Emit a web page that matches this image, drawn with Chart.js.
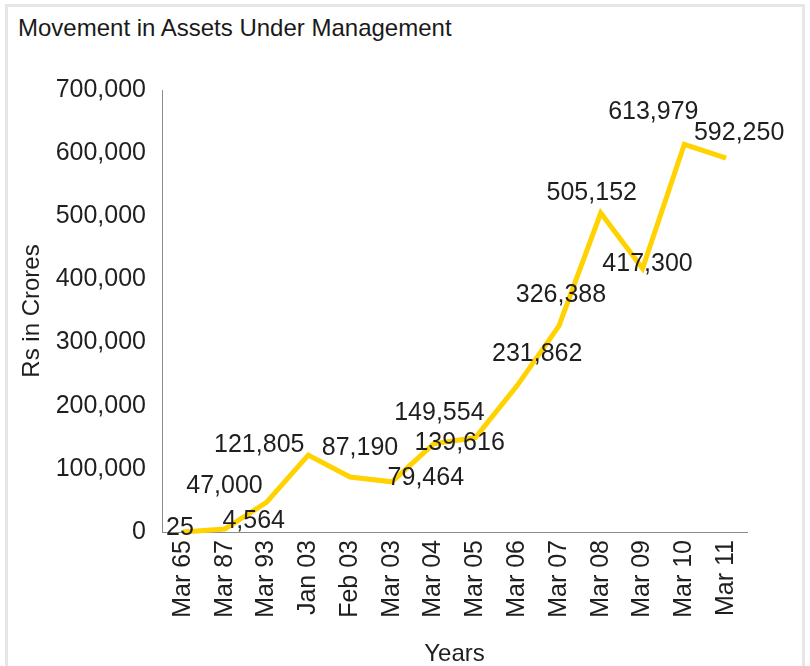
<!DOCTYPE html>
<html>
<head>
<meta charset="utf-8">
<script src="https://cdn.jsdelivr.net/npm/chart.js@4.4.1/dist/chart.umd.min.js"></script>
<style>
    html, body { margin: 0; padding: 0; background: #fff; }
    #frame {
        position: absolute; left: 5px; top: 4px; width: 800px; height: 700px;
        border: 3px solid #e6e6e6; box-sizing: border-box;
    }
    #title {
        position: absolute; left: 18px; top: 14px;
        font: 24px "Liberation Sans", Arial, sans-serif; color: #1a1a1a;
    }
    #wrap { position: absolute; left: 0; top: 0; width: 810px; height: 666px; }
</style>
</head>
<body>
<div id="frame"></div>
<div id="title">Movement in Assets Under Management</div>
<div id="wrap"><canvas id="chart" width="810" height="666"></canvas></div>
<script>
// --- data ---
const categories = ['Mar 65', 'Mar 87', 'Mar 93', 'Jan 03', 'Feb 03', 'Mar 03', 'Mar 04',
    'Mar 05', 'Mar 06', 'Mar 07', 'Mar 08', 'Mar 09', 'Mar 10', 'Mar 11'];
const aumValues = [25, 4564, 47000, 121805, 87190, 79464, 139616,
    149554, 231862, 326388, 505152, 417300, 613979, 592250];
const yTickValues = [0, 100000, 200000, 300000, 400000, 500000, 600000, 700000];

// where each value label sits, relative to its point (px)
const labelOffsets = [[-3, -4], [29, -8], [-42, -16], [-49, -10], [10, -29], [34, -4], [26, -1],
    [-36, -24], [20, -31], [2, -31], [-9, -20], [5, -4], [-31, -32], [13, -25]];

const FONT = '"Liberation Sans", Arial, sans-serif';
const TEXT = '#1f1f1f';

const fmt = v => Number(v).toLocaleString('en-US');

// draws the value next to each point
const valueLabels = {
    id: 'valueLabels',
    afterDatasetsDraw(chart) {
        const ctx = chart.ctx;
        const meta = chart.getDatasetMeta(0);
        ctx.save();
        ctx.font = '25px ' + FONT;
        ctx.fillStyle = TEXT;
        ctx.textAlign = 'center';
        ctx.textBaseline = 'middle';
        meta.data.forEach((pt, i) => {
            const off = labelOffsets[i];
            ctx.fillText(fmt(aumValues[i]), pt.x + off[0], pt.y + off[1]);
        });
        ctx.restore();
    }
};

new Chart(document.getElementById('chart'), {
    type: 'line',
    data: {
        labels: categories,
        datasets: [{
            data: aumValues,
            borderColor: '#FFD200',
            borderWidth: 5,
            pointRadius: 0,
            tension: 0,
            clip: false
        }]
    },
    options: {
        responsive: false,
        animation: false,
        layout: { padding: { left: 18, top: 90, right: 63, bottom: 0 } },
        plugins: {
            legend: { display: false },
            tooltip: { enabled: false }
        },
        scales: {
            x: {
                offset: true,
                grid: { display: false, drawTicks: false },
                border: { display: true, color: '#8c8c8c', width: 1 },
                ticks: {
                    autoSkip: false, minRotation: 90, maxRotation: 90, padding: 8,
                    color: TEXT, font: { family: FONT, size: 25 }
                },
                title: {
                    display: true, text: 'Years', color: TEXT, padding: 0,
                    font: { family: FONT, size: 24, lineHeight: 1 }
                },
                afterFit: s => { s.height = 134; }
            },
            y: {
                min: 0, max: 700000,
                grid: { display: false, drawTicks: false },
                border: { display: true, color: '#8c8c8c', width: 1 },
                afterBuildTicks: s => { s.ticks = yTickValues.map(v => ({ value: v })); },
                ticks: {
                    padding: 16, color: TEXT, font: { family: FONT, size: 25 },
                    callback: v => fmt(v)
                },
                title: {
                    display: true, text: 'Rs in Crores', color: TEXT, padding: 0,
                    font: { family: FONT, size: 24 }
                },
                afterFit: s => { s.width = 144; }
            }
        }
    },
    plugins: [valueLabels]
});
</script>
</body>
</html>
